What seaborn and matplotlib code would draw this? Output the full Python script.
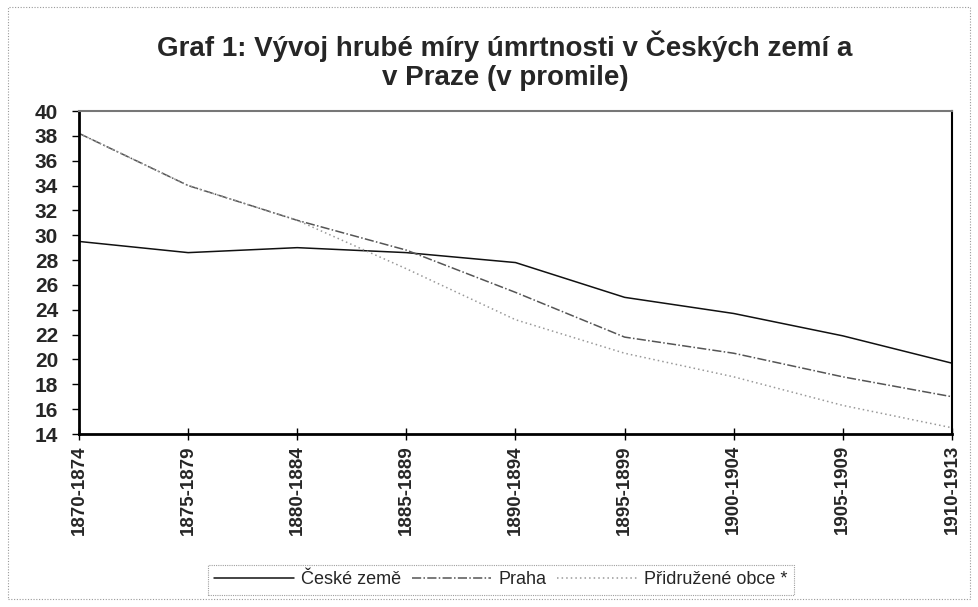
import matplotlib
matplotlib.use("Agg")
import matplotlib.pyplot as plt
import seaborn as sns
import pandas as pd
import numpy as np

periods = ["1870-1874", "1875-1879", "1880-1884", "1885-1889", "1890-1894",
           "1895-1899", "1900-1904", "1905-1909", "1910-1913"]
ceske_zeme = [29.5, 28.6, 29.0, 28.6, 27.8, 25.0, 23.7, 21.9, 19.7]
praha = [38.2, 34.0, 31.2, 28.8, 25.4, 21.8, 20.5, 18.6, 17.0]
pridruzene = [38.2, 34.0, 31.2, 27.3, 23.2, 20.5, 18.6, 16.3, 14.5]
series_names = ["České země", "Praha", "Přidružené obce *"]

df = pd.DataFrame({
    "period": periods * 3,
    "x": list(range(len(periods))) * 3,
    "value": ceske_zeme + praha + pridruzene,
    "series": [series_names[0]] * 9 + [series_names[1]] * 9 + [series_names[2]] * 9,
})

sns.set_theme(style="white")
plt.rcParams['font.family'] = ['Liberation Sans', 'DejaVu Sans']

fig = plt.figure(figsize=(9.79, 6.07), dpi=100)
ax = fig.add_axes([79/979, 1-434/607, (952-79)/979, (434-111)/607])

palette = {series_names[0]: "#111111", series_names[1]: "#555555", series_names[2]: "#999999"}
dashes = {series_names[0]: "", series_names[1]: (6, 1.5, 1, 1.5), series_names[2]: (1, 2)}
sns.lineplot(data=df, x="x", y="value", hue="series", style="series",
             palette=palette, dashes=dashes, linewidth=1.1, ax=ax, legend=False)

ax.set_xlim(0, len(periods) - 1)
ax.set_ylim(14, 40)
ax.set_yticks(np.arange(14, 41, 2))
ax.set_yticklabels([str(v) for v in range(14, 41, 2)], fontsize=15, fontweight="bold")
ax.set_xticks(range(len(periods)))
ax.set_xticklabels(periods, rotation=90, fontsize=13.5, fontweight="bold")
ax.set_xlabel("")
ax.set_ylabel("")
ax.tick_params(axis="y", direction="out", length=5, width=1, pad=10, left=True, color="black")
ax.tick_params(axis="x", direction="inout", length=8, width=1, pad=4, bottom=True, color="black")

for side in ["left", "bottom"]:
    ax.spines[side].set_color("black")
    ax.spines[side].set_linewidth(2)
ax.spines["right"].set_color("black")
ax.spines["right"].set_linewidth(1.5)
ax.spines["top"].set_color("#777777")
ax.spines["top"].set_linewidth(1.5)

fig.text(0.516, 1-61/607, "Graf 1: Vývoj hrubé míry úmrtnosti v Českých zemí a\nv Praze (v promile)",
         ha="center", va="center", fontsize=20, fontweight="heavy", linespacing=1.15)

from matplotlib.lines import Line2D
handles = [Line2D([], [], color=palette[n], linewidth=1.1,
                  linestyle="-" if n == series_names[0] else ((0, dashes[n])))
           for n in series_names]
leg = fig.legend(handles, series_names, loc="center", bbox_to_anchor=(501/979, 1-580/607),
                 ncol=3, frameon=True, fontsize=13, handlelength=4.4, handletextpad=0.4,
                 columnspacing=0.6, borderpad=0.35, fancybox=False)
leg.get_frame().set_edgecolor("#888888")
leg.get_frame().set_linestyle((0, (1, 1)))
leg.get_frame().set_linewidth(0.8)

# outer chart border
from matplotlib.patches import Rectangle
fig.patches.append(Rectangle((8/979, 8/607), (970-8)/979, (600-8)/607, transform=fig.transFigure,
                             fill=False, edgecolor="#999999", linewidth=0.8, linestyle=(0, (1, 1.5))))

fig.savefig("out.png", dpi=100)
